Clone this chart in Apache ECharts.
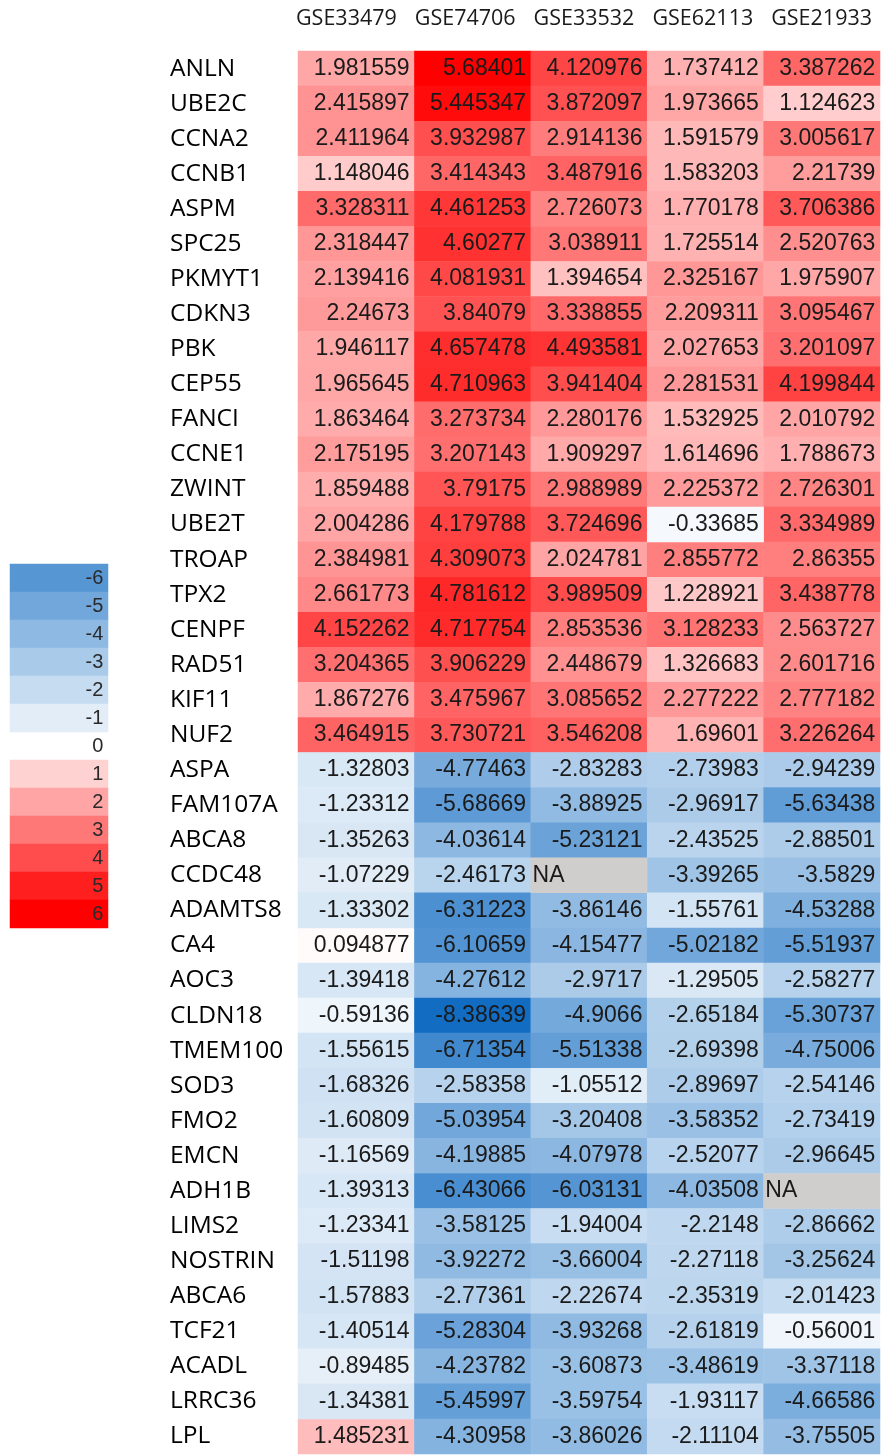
<!DOCTYPE html>
<html>
<head>
<meta charset="utf-8">
<script src="https://cdn.jsdelivr.net/npm/echarts@6/dist/echarts.min.js"></script>
<style>
html,body{margin:0;padding:0;background:#fff;}
#chart{width:881px;height:1456px;}
</style>
</head>
<body>
<div id="chart"></div>
<script>
// ---- data ----
const datasets = ['GSE33479', 'GSE74706', 'GSE33532', 'GSE62113', 'GSE21933'];
const genes = ['ANLN','UBE2C','CCNA2','CCNB1','ASPM','SPC25','PKMYT1','CDKN3','PBK','CEP55',
  'FANCI','CCNE1','ZWINT','UBE2T','TROAP','TPX2','CENPF','RAD51','KIF11','NUF2',
  'ASPA','FAM107A','ABCA8','CCDC48','ADAMTS8','CA4','AOC3','CLDN18','TMEM100','SOD3',
  'FMO2','EMCN','ADH1B','LIMS2','NOSTRIN','ABCA6','TCF21','ACADL','LRRC36','LPL'];
const GSE33479 = [1.981559,2.415897,2.411964,1.148046,3.328311,2.318447,2.139416,2.24673,1.946117,1.965645,
  1.863464,2.175195,1.859488,2.004286,2.384981,2.661773,4.152262,3.204365,1.867276,3.464915,
  -1.32803,-1.23312,-1.35263,-1.07229,-1.33302,0.094877,-1.39418,-0.59136,-1.55615,-1.68326,
  -1.60809,-1.16569,-1.39313,-1.23341,-1.51198,-1.57883,-1.40514,-0.89485,-1.34381,1.485231];
const GSE74706 = [5.68401,5.445347,3.932987,3.414343,4.461253,4.60277,4.081931,3.84079,4.657478,4.710963,
  3.273734,3.207143,3.79175,4.179788,4.309073,4.781612,4.717754,3.906229,3.475967,3.730721,
  -4.77463,-5.68669,-4.03614,-2.46173,-6.31223,-6.10659,-4.27612,-8.38639,-6.71354,-2.58358,
  -5.03954,-4.19885,-6.43066,-3.58125,-3.92272,-2.77361,-5.28304,-4.23782,-5.45997,-4.30958];
const GSE33532 = [4.120976,3.872097,2.914136,3.487916,2.726073,3.038911,1.394654,3.338855,4.493581,3.941404,
  2.280176,1.909297,2.988989,3.724696,2.024781,3.989509,2.853536,2.448679,3.085652,3.546208,
  -2.83283,-3.88925,-5.23121,null,-3.86146,-4.15477,-2.9717,-4.9066,-5.51338,-1.05512,
  -3.20408,-4.07978,-6.03131,-1.94004,-3.66004,-2.22674,-3.93268,-3.60873,-3.59754,-3.86026];
const GSE62113 = [1.737412,1.973665,1.591579,1.583203,1.770178,1.725514,2.325167,2.209311,2.027653,2.281531,
  1.532925,1.614696,2.225372,-0.33685,2.855772,1.228921,3.128233,1.326683,2.277222,1.69601,
  -2.73983,-2.96917,-2.43525,-3.39265,-1.55761,-5.02182,-1.29505,-2.65184,-2.69398,-2.89697,
  -3.58352,-2.52077,-4.03508,-2.2148,-2.27118,-2.35319,-2.61819,-3.48619,-1.93117,-2.11104];
const GSE21933 = [3.387262,1.124623,3.005617,2.21739,3.706386,2.520763,1.975907,3.095467,3.201097,4.199844,
  2.010792,1.788673,2.726301,3.334989,2.86355,3.438778,2.563727,2.601716,2.777182,3.226264,
  -2.94239,-5.63438,-2.88501,-3.5829,-4.53288,-5.51937,-2.58277,-5.30737,-4.75006,-2.54146,
  -2.73419,-2.96645,null,-2.86662,-3.25624,-2.01423,-0.56001,-3.37118,-4.66586,-3.75505];
const legendTicks = [-6,-5,-4,-3,-2,-1,0,1,2,3,4,5,6];

// ---- build ----
const columns = [GSE33479, GSE74706, GSE33532, GSE62113, GSE21933];
const posData = [], negData = [], naData = [];
columns.forEach((col, x) => {
  col.forEach((v, y) => {
    if (v === null) naData.push([x, y, 0]);
    else if (v >= 0) posData.push([x, y, v]);
    else negData.push([x, y, v]);
  });
});
const legPos = [], legNeg = [];
legendTicks.forEach((v, i) => { (v >= 0 ? legPos : legNeg).push([0, i, v]); });

const minVal = Math.min(...columns.flat().filter(v => v !== null));
const maxVal = Math.max(...columns.flat().filter(v => v !== null));

const cellLabel = {
  show: true, position: 'insideRight', distance: 5,
  fontFamily: 'Liberation Sans, Arial, sans-serif', fontSize: 23, color: '#1a1a1a',
  formatter: p => String(p.value[2])
};
const legLabel = {
  show: true, position: 'insideRight', distance: 5,
  fontFamily: 'Liberation Sans, Arial, sans-serif', fontSize: 20, color: '#2a2a2a',
  formatter: p => String(p.value[2])
};

const chart = echarts.init(document.getElementById('chart'), null, {renderer: 'canvas'});
chart.setOption({
  animation: false,
  backgroundColor: '#ffffff',
  grid: [
    {left: 298, top: 51, width: 582, height: 1403},
    {left: 287, top: 0, width: 600, height: 19},
    {left: 10, top: 564, width: 98, height: 364}
  ],
  xAxis: [
    {type: 'category', gridIndex: 0, data: datasets, show: false},
    {type: 'category', gridIndex: 1, data: datasets, position: 'bottom',
      axisLine: {show: false}, axisTick: {show: false}, splitLine: {show: false},
      axisLabel: {margin: 0, verticalAlign: 'middle', fontFamily: 'Open Sans, Noto Sans, sans-serif',
        fontSize: 21.5, color: '#1a1a1a', interval: 0}},
    {type: 'category', gridIndex: 2, data: [''], show: false}
  ],
  yAxis: [
    {type: 'category', gridIndex: 0, data: genes, inverse: true,
      axisLine: {show: false}, axisTick: {show: false}, splitLine: {show: false},
      axisLabel: {align: 'left', margin: 128, fontFamily: 'Open Sans, Noto Sans, sans-serif',
        fontSize: 24.5, color: '#000', interval: 0}},
    {type: 'category', gridIndex: 1, data: [''], show: false},
    {type: 'category', gridIndex: 2, data: legendTicks.map(String), inverse: true, show: false}
  ],
  visualMap: [
    {type: 'continuous', show: false, seriesIndex: [0, 3], dimension: 2,
      min: 0, max: maxVal, inRange: {color: ['#ffffff', '#ff0000']}, outOfRange: {color: '#ff0000'}},
    {type: 'continuous', show: false, seriesIndex: [1, 4], dimension: 2,
      min: minVal, max: 0, inRange: {color: ['#126cc2', '#ffffff']}, outOfRange: {color: '#126cc2'}}
  ],
  series: [
    {type: 'heatmap', xAxisIndex: 0, yAxisIndex: 0, data: posData, label: cellLabel, emphasis: {disabled: true}},
    {type: 'heatmap', xAxisIndex: 0, yAxisIndex: 0, data: negData, label: cellLabel, emphasis: {disabled: true}},
    {type: 'heatmap', xAxisIndex: 0, yAxisIndex: 0, data: naData, itemStyle: {color: '#d0cecd'},
      label: {show: true, position: 'insideLeft', distance: 2, fontFamily: 'Liberation Sans, Arial, sans-serif',
        fontSize: 23, color: '#1a1a1a', formatter: 'NA'}, emphasis: {disabled: true}},
    {type: 'heatmap', xAxisIndex: 2, yAxisIndex: 2, data: legPos, label: legLabel, emphasis: {disabled: true}},
    {type: 'heatmap', xAxisIndex: 2, yAxisIndex: 2, data: legNeg, label: legLabel, emphasis: {disabled: true}}
  ]
});
</script>
</body>
</html>
